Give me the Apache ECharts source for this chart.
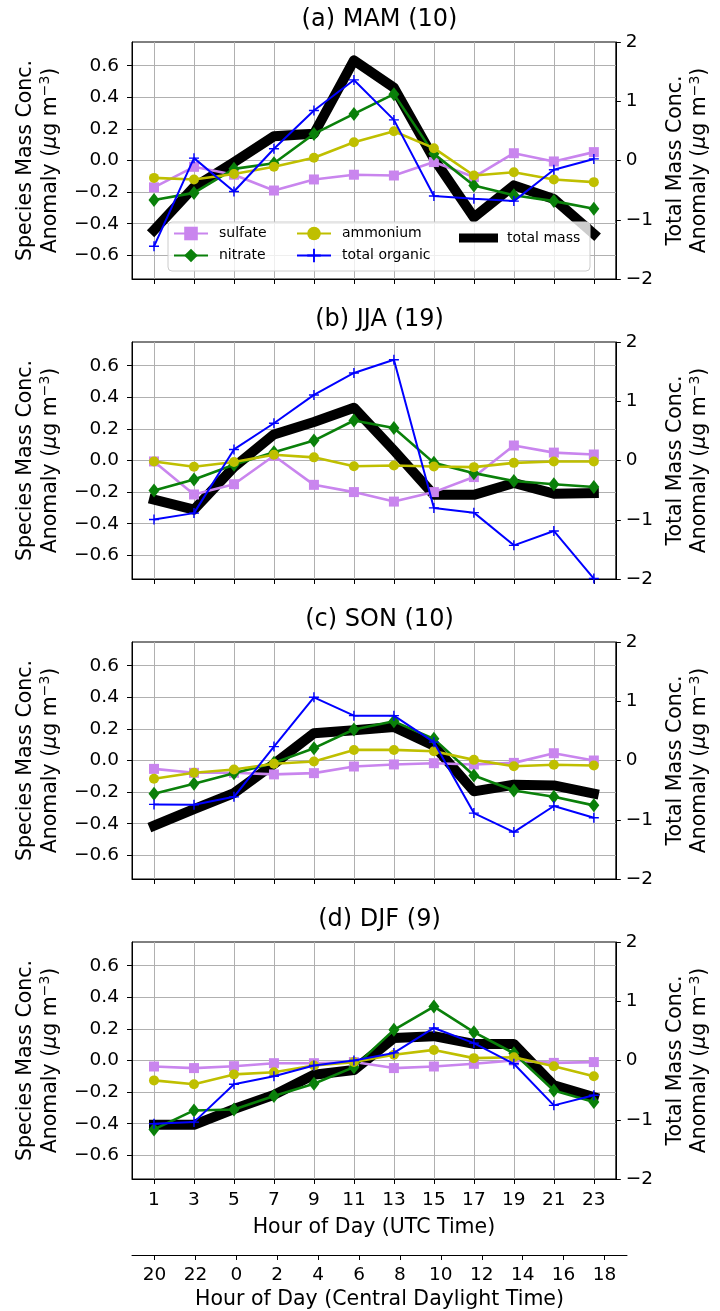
<!DOCTYPE html>
<html><head><meta charset="utf-8">
<script src="https://cdn.jsdelivr.net/npm/echarts@6/dist/echarts.min.js"></script>
<style>html,body{margin:0;padding:0;background:#fff}#c{width:720px;height:1311px}</style>
</head><body><div id="c"></div>
<script>
// ---- data ----
const hoursUTC = [1, 3, 5, 7, 9, 11, 13, 15, 17, 19, 21, 23];
const hoursCDT = ['20', '22', '0', '2', '4', '6', '8', '10', '12', '14', '16', '18'];
const leftTicks = [-0.6, -0.4, -0.2, 0, 0.2, 0.4, 0.6];
const seasonTitles = ['(a) MAM (10)', '(b) JJA (19)', '(c) SON (10)', '(d) DJF (9)'];
const seriesNames = ['sulfate', 'nitrate', 'ammonium', 'total organic', 'total mass'];

// MAM
const sulfateMAM  = [-0.17, -0.04, -0.09, -0.19, -0.12, -0.09, -0.095, -0.01, -0.105, 0.046, -0.006, 0.053];
const nitrateMAM  = [-0.25, -0.205, -0.053, -0.017, 0.168, 0.295, 0.42, 0.042, -0.158, -0.22, -0.257, -0.305];
const ammoniumMAM = [-0.11, -0.12, -0.085, -0.04, 0.017, 0.116, 0.185, 0.078, -0.095, -0.074, -0.12, -0.137];
const organicMAM  = [-0.543, 0.015, -0.196, 0.074, 0.316, 0.51, 0.257, -0.225, -0.242, -0.257, -0.059, 0.01];
const totalMAM    = [-1.175, -0.45, -0.03, 0.41, 0.45, 1.69, 1.23, 0.03, -0.96, -0.42, -0.65, -1.24];
// JJA
const sulfateJJA  = [-0.006, -0.215, -0.15, 0.03, -0.154, -0.2, -0.26, -0.2, -0.105, 0.095, 0.05, 0.038];
const nitrateJJA  = [-0.19, -0.12, -0.027, 0.053, 0.126, 0.253, 0.206, -0.015, -0.08, -0.13, -0.15, -0.168];
const ammoniumJJA = [-0.006, -0.04, -0.01, 0.036, 0.02, -0.036, -0.032, -0.038, -0.042, -0.015, -0.006, -0.006];
const organicJJA  = [-0.373, -0.333, 0.07, 0.236, 0.415, 0.554, 0.638, -0.3, -0.33, -0.537, -0.446, -0.747];
const totalJJA    = [-0.66, -0.83, -0.11, 0.44, 0.65, 0.89, 0.17, -0.58, -0.58, -0.38, -0.56, -0.55];
// SON
const sulfateSON  = [-0.053, -0.078, -0.078, -0.088, -0.08, -0.038, -0.025, -0.017, -0.025, -0.015, 0.046, 0.0];
const nitrateSON  = [-0.21, -0.147, -0.08, -0.015, 0.078, 0.196, 0.248, 0.137, -0.095, -0.19, -0.23, -0.284];
const ammoniumSON = [-0.116, -0.078, -0.057, -0.021, -0.006, 0.067, 0.067, 0.059, 0.004, -0.036, -0.027, -0.032];
const organicSON  = [-0.278, -0.28, -0.23, 0.088, 0.4, 0.284, 0.284, 0.116, -0.333, -0.453, -0.288, -0.362];
const totalSON    = [-1.10, -0.82, -0.55, -0.06, 0.46, 0.51, 0.565, 0.25, -0.52, -0.41, -0.42, -0.56];
// DJF
const sulfateDJF  = [-0.038, -0.048, -0.036, -0.017, -0.017, -0.01, -0.048, -0.038, -0.021, 0.0, -0.015, -0.01];
const nitrateDJF  = [-0.436, -0.316, -0.31, -0.225, -0.147, -0.042, 0.194, 0.341, 0.179, 0.046, -0.19, -0.263];
const ammoniumDJF = [-0.126, -0.15, -0.088, -0.074, -0.032, -0.01, 0.036, 0.067, 0.015, 0.021, -0.036, -0.1];
const organicDJF  = [-0.4, -0.39, -0.15, -0.1, -0.032, 0.0, 0.048, 0.206, 0.11, -0.021, -0.284, -0.22];
const totalDJF    = [-1.085, -1.085, -0.82, -0.58, -0.24, -0.16, 0.38, 0.41, 0.28, 0.28, -0.42, -0.62];

const seasons = [
  [sulfateMAM, nitrateMAM, ammoniumMAM, organicMAM, totalMAM],
  [sulfateJJA, nitrateJJA, ammoniumJJA, organicJJA, totalJJA],
  [sulfateSON, nitrateSON, ammoniumSON, organicSON, totalSON],
  [sulfateDJF, nitrateDJF, ammoniumDJF, organicDJF, totalDJF]
];

// ---- styling ----
const FONT = 'DejaVu Sans';
const TICK_FS = 18.5, LABEL_FS = 20.5, TITLE_FS = 24;
const colors = { 'sulfate': '#c985ee', 'nitrate': '#0a800a', 'ammonium': '#bfbf00', 'total organic': '#0000ff', 'total mass': '#000000' };
const plusPath = 'path://M0,4.3H10V5.7H0Z M4.3,0H5.7V10H4.3Z';
const symbols = { 'sulfate': ['rect', 10], 'nitrate': ['diamond', [11, 14]], 'ammonium': ['circle', 10], 'total organic': [plusPath, 10] };
const widths = { 'sulfate': 2.6, 'nitrate': 2.6, 'ammonium': 2.6, 'total organic': 2, 'total mass': 10 };
const minus = s => String(s).replace('-', '\u2212');

const nameRich = {
  a: { fontFamily: FONT, fontSize: LABEL_FS, color: '#000' },
  i: { fontFamily: FONT, fontSize: LABEL_FS, fontStyle: 'italic', color: '#000' },
  s: { fontFamily: FONT, fontSize: 14, color: '#000', padding: [0, 0, 10, 0] }
};

const GL = 132, GW = 495, GH = 237;
const grids = [], xAxes = [], yAxes = [], series = [], titles = [];
for (let i = 0; i < 4; i++) {
  const top = 42 + 300 * i;
  grids.push({ left: GL, width: GW, top: top, height: GH, show: true, borderColor: '#000', borderWidth: 1, backgroundColor: 'transparent' });
  titles.push({ text: seasonTitles[i], left: GL + GW / 2, top: top - 34, textAlign: 'center', padding: 0,
    textStyle: { fontFamily: FONT, fontSize: TITLE_FS, fontWeight: 'normal', color: '#000', lineHeight: 24 } });
  xAxes.push({
    gridIndex: i, type: 'value', min: -0.1, max: 24.1,
    axisLine: { show: true, onZero: false, lineStyle: { color: '#000', width: 1 } },
    axisTick: { show: true, inside: false, length: 5, customValues: hoursUTC, lineStyle: { color: '#000', width: 1 } },
    axisLabel: { show: i === 3, customValues: hoursUTC, margin: 12, fontFamily: FONT, fontSize: TICK_FS, color: '#000' },
    splitLine: { show: true, lineStyle: { color: '#b0b0b0', width: 1 } },
    name: i === 3 ? 'Hour of Day (UTC Time)' : '', nameLocation: 'middle', nameGap: 38,
    nameTextStyle: { fontFamily: FONT, fontSize: LABEL_FS, color: '#000' }
  });
  yAxes.push({
    gridIndex: i, type: 'value', position: 'left', min: -0.75, max: 0.75,
    axisLine: { show: true, onZero: false, lineStyle: { color: '#000', width: 1 } },
    axisTick: { show: true, inside: false, length: 5, customValues: leftTicks, lineStyle: { color: '#000' } },
    axisLabel: { customValues: leftTicks, margin: 13, fontFamily: FONT, fontSize: TICK_FS, color: '#000',
      formatter: v => minus(Number(v).toFixed(1)) },
    splitLine: { show: true, lineStyle: { color: '#b0b0b0', width: 1 } },
    name: '{a|Species Mass Conc.}\n{a|Anomaly (}{i|\u03bc}{a|g m}{s|\u22123}{a|)}',
    nameLocation: 'middle', nameRotate: 90, nameGap: 69,
    nameTextStyle: { fontFamily: FONT, fontSize: LABEL_FS, color: '#000', lineHeight: 25, rich: nameRich }
  });
  yAxes.push({
    gridIndex: i, type: 'value', position: 'right', min: -2, max: 2, interval: 1,
    axisLine: { show: true, onZero: false, lineStyle: { color: '#000', width: 1 } },
    axisTick: { show: true, inside: false, length: 5, lineStyle: { color: '#000' } },
    axisLabel: { margin: 10, fontFamily: FONT, fontSize: TICK_FS, color: '#000', formatter: v => minus(v) },
    splitLine: { show: false },
    name: '{a|Total Mass Conc.}\n{a|Anomaly (}{i|\u03bc}{a|g m}{s|\u22123}{a|)}',
    nameLocation: 'middle', nameRotate: 90, nameGap: 47,
    nameTextStyle: { fontFamily: FONT, fontSize: LABEL_FS, color: '#000', lineHeight: 24, rich: nameRich }
  });
  const arrs = seasons[i];
  // total mass first, below the species lines
  series.push({
    name: 'total mass', type: 'line', xAxisIndex: i, yAxisIndex: 2 * i + 1, z: 1,
    data: hoursUTC.map((h, k) => [h, arrs[4][k]]), showSymbol: false, symbol: 'none',
    lineStyle: { color: '#000', width: widths['total mass'], join: 'round', cap: 'square' }, itemStyle: { color: '#000' }
  });
  ['sulfate', 'nitrate', 'ammonium', 'total organic'].forEach((nm, j) => {
    series.push({
      name: nm, type: 'line', xAxisIndex: i, yAxisIndex: 2 * i, z: 2 + j,
      data: hoursUTC.map((h, k) => [h, arrs[j][k]]),
      symbol: symbols[nm][0], symbolSize: symbols[nm][1], showSymbol: true,
      lineStyle: { color: colors[nm], width: widths[nm] }, itemStyle: { color: colors[nm] }
    });
  });
}
// secondary (CDT) axis below panel d
grids.push({ left: GL, width: GW, top: 1254, height: 1, show: false });
xAxes.push({
  gridIndex: 4, type: 'value', min: -0.1, max: 24.1, position: 'bottom',
  axisLine: { show: true, onZero: false, lineStyle: { color: '#000', width: 1 } },
  axisTick: { show: true, inside: false, length: 5, customValues: hoursUTC, lineStyle: { color: '#000' } },
  axisLabel: { customValues: hoursUTC, margin: 11, fontFamily: FONT, fontSize: TICK_FS, color: '#000',
    formatter: v => hoursCDT[hoursUTC.indexOf(Math.round(v))] },
  splitLine: { show: false },
  name: 'Hour of Day (Central Daylight Time)', nameLocation: 'middle', nameGap: 34,
  nameTextStyle: { fontFamily: FONT, fontSize: LABEL_FS, color: '#000' }
});
yAxes.push({ gridIndex: 4, type: 'value', show: false, min: 0, max: 1 });

// legend items placed like a 3-column legend box
const legendItems = [
  { name: 'sulfate', left: 173, top: 226.5 },
  { name: 'nitrate', left: 173, top: 248.5 },
  { name: 'ammonium', left: 296, top: 226.5 },
  { name: 'total organic', left: 296, top: 248.5 }
];
const legends = legendItems.map(it => ({
  data: [it.name], left: it.left, top: it.top, padding: 0, itemWidth: 34, itemHeight: 17, z: 10,
  selectedMode: false,
  textStyle: { fontFamily: FONT, fontSize: 14, color: '#000', padding: [0, 0, 0, 6] }
}));
legends.push({
  data: [{ name: 'total mass', icon: 'rect' }], left: 459, top: 231, padding: 0, itemWidth: 39, itemHeight: 9, z: 10,
  selectedMode: false,
  textStyle: { fontFamily: FONT, fontSize: 14, color: '#000', padding: [0, 0, 0, 4] }
});

const chart = echarts.init(document.getElementById('c'), null, { renderer: 'canvas' });
chart.setOption({
  animation: false,
  backgroundColor: '#fff',
  title: titles,
  grid: grids,
  xAxis: xAxes,
  yAxis: yAxes,
  legend: legends,
  graphic: [{ type: 'rect', z: 8, shape: { x: 168, y: 222, width: 422, height: 49, r: 4 },
    style: { fill: 'rgba(255,255,255,0.8)', stroke: '#cccccc', lineWidth: 1 } }],
  series: series
});
</script></body></html>
